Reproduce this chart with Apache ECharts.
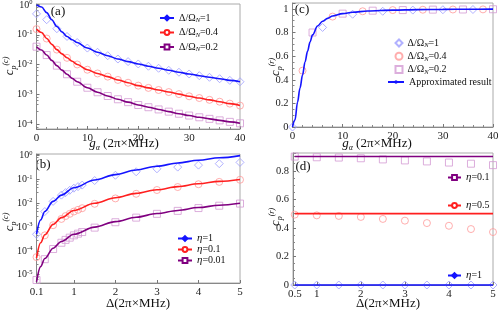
<!DOCTYPE html>
<html><head><meta charset="utf-8">
<script src="https://cdn.jsdelivr.net/npm/echarts@6/dist/echarts.min.js"></script>
<style>html,body{margin:0;padding:0;background:#fff}#c{width:498px;height:311px}</style>
</head><body><div id="c"></div>
<script>
// ---------- panel (a) ----------
const gLine = [0,1,2,3,4,5,6,7,8,10,12,14,16,18,20,22,24,26,28,30,32,34,36,38,40];
const aLineBlue = [1.0,0.85,0.55,0.32,0.19,0.125,0.088,0.068,0.055,0.036,0.026,0.02,0.0155,0.0127,0.0106,0.0089,0.0076,0.0065,0.0056,0.0049,0.0043,0.0038,0.0034,0.003,0.0027];
const aLineRed = [0.155,0.12,0.075,0.048,0.032,0.023,0.017,0.013,0.0102,0.0068,0.0051,0.004,0.0031,0.0025,0.002,0.00168,0.00143,0.00122,0.00104,0.00088,0.00077,0.00067,0.00058,0.0005,0.00043];
const aLinePurple = [0.04,0.031,0.021,0.014,0.0093,0.0066,0.0048,0.0035,0.0027,0.0017,0.0012,0.0009,0.0007,0.00056,0.00045,0.00038,0.00032,0.00027,0.00023,0.0002,0.000175,0.000155,0.000138,0.000123,0.00011];
const gMark = [0,2,4,6,8,10,12,14,16,18,20,22,24,26,28,30,32,34,36,38,40];
const aMarkBlue = [0.5,0.32,0.16,0.088,0.055,0.036,0.026,0.02,0.0155,0.0127,0.0106,0.0089,0.0076,0.0065,0.0056,0.0049,0.0043,0.0038,0.0034,0.003,0.0027];
const aMarkRed = [0.155,0.075,0.032,0.017,0.0102,0.0068,0.0051,0.004,0.0031,0.0025,0.002,0.00168,0.00143,0.00122,0.00104,0.00088,0.00077,0.00067,0.00058,0.0005,0.00043];
const aMarkPurple = [0.04,0.021,0.0093,0.0048,0.0027,0.0017,0.0012,0.0009,0.0007,0.00056,0.00045,0.00038,0.00032,0.00027,0.00023,0.0002,0.000175,0.000155,0.000138,0.000123,0.00011];

// ---------- panel (b) ----------
const dLine = [0.1,0.2,0.3,0.5,0.7,1,1.5,2,2.5,3,3.5,4,4.5,5];
const bLineBlue = [5e-4,2.0e-3,4.5e-3,0.012,0.022,0.045,0.095,0.16,0.25,0.36,0.49,0.64,0.81,1.0];
const bLineRed = [5e-5,2.2e-4,4.8e-4,1.3e-3,2.5e-3,5e-3,0.01,0.017,0.026,0.037,0.05,0.066,0.083,0.1];
const bLinePurple = [5e-6,2.2e-5,4.8e-5,1.3e-4,2.5e-4,5e-4,1e-3,1.7e-3,2.6e-3,3.7e-3,5e-3,6.6e-3,8.3e-3,0.01];
const dMark = [0.1,0.3,0.5,0.7,0.8,0.9,1.0,1.1,1.2,1.5,2,2.5,3,3.5,4,4.5,5];
const bMarkBlue = [5e-4,4.5e-3,0.012,0.022,0.028,0.035,0.043,0.05,0.058,0.09,0.15,0.21,0.28,0.33,0.4,0.46,0.52];
const bMarkRed = [5.5e-5,4.5e-4,1.2e-3,2.2e-3,2.9e-3,3.6e-3,4.5e-3,5.3e-3,6.2e-3,0.0095,0.016,0.025,0.036,0.048,0.063,0.079,0.097];
const bMarkPurple = [6e-6,4.5e-5,1.2e-4,2.2e-4,2.9e-4,3.6e-4,4.5e-4,5.3e-4,6.2e-4,9.5e-4,1.6e-3,2.5e-3,3.6e-3,4.8e-3,6.3e-3,7.9e-3,9.7e-3];

// ---------- panel (c) ----------
const cLineG = [0,0.5,1,1.5,2,2.5,3,3.5,4,5,6,7,8,10,12,15,20,25,30,35,40];
const cLineVal = [0,0.06,0.21,0.33,0.44,0.55,0.64,0.72,0.78,0.855,0.895,0.92,0.94,0.96,0.972,0.982,0.99,0.994,0.996,0.997,0.998];
const cBlueG = [0,6,12,18,24,30,36];
const cBlueVal = [0,0.843,0.955,0.98,0.99,0.993,0.995];
const cRedG = [2,8,14,20,26,32,38];
const cRedVal = [0.477,0.935,0.98,0.99,0.993,0.995,0.996];
const cPurpleG = [4,10,16,22,28,34,40];
const cPurpleVal = [0.80,0.96,0.985,0.99,0.994,0.995,0.997];

// ---------- panel (d) ----------
const dD = [0.5,1,1.5,2,2.5,3,3.5,4,4.5,5];
const dLinePurple = [0.9,0.9,0.9,0.9,0.9,0.9,0.9,0.9,0.9,0.9];
const dLineRed = [0.5,0.5,0.5,0.5,0.5,0.5,0.5,0.5,0.5,0.5];
const dLineBlue = [0,0,0,0,0,0,0,0,0,0];
const dMarkPurple = [0.9,0.895,0.893,0.888,0.88,0.873,0.866,0.858,0.85,0.84];
const dMarkRed = [0.493,0.488,0.484,0.477,0.463,0.451,0.434,0.415,0.392,0.371];
const dMarkBlue = [0,0,0,0,0,0,0,0,0,0];

// tick labels
const bXTicks = [0.1,1,2,3,4,5];
const dXTicks = [0.5,1,2,3,4,5];

const FONT = 'Liberation Serif';
const BLUE = '#1414ff', RED = '#ff1f1f', PURPLE = '#800080';
const LBLUE = '#9d9dff', LRED = '#ff9a9a', LPURPLE = '#d39ad3';

const pairs = (xs, ys) => xs.map((x, i) => [x, ys[i]]);

const richBase = {
  n: {fontFamily: FONT, fontSize: 10, color: '#111', lineHeight: 12},
  i: {fontFamily: FONT, fontSize: 11, fontStyle: 'italic', color: '#111', lineHeight: 12},
  isub: {fontFamily: FONT, fontSize: 6.5, fontStyle: 'italic', color: '#111', verticalAlign: 'bottom', lineHeight: 12, padding: [5, 0, 0, 0]}
};

const legendNames = {
  aB: '{n|Δ/Ω}{isub|N}{n|=1}', aR: '{n|Δ/Ω}{isub|N}{n|=0.4}', aP: '{n|Δ/Ω}{isub|N}{n|=0.2}',
  cB: '{n|Δ/Ω}{isub|N}{n|=1}', cR: '{n|Δ/Ω}{isub|N}{n|=0.4}', cP: '{n|Δ/Ω}{isub|N}{n|=0.2}', cL: '{n|Approximated result}',
  bB: '{i|η}{n|=1}', bR: '{i|η}{n|=0.1}', bP: '{i|η}{n|=0.01}',
  dP: '{i|η}{n|=0.1}', dR: '{i|η}{n|=0.5}', dB: '{i|η}{n|=1}'
};

const axisLineStyle = {show: true, lineStyle: {color: '#888', width: 1}};
const tickStyle = {show: true, inside: true, length: 3, lineStyle: {color: '#777'}};
const minorStyle = (n) => ({show: true, splitNumber: n, length: 2, lineStyle: {color: '#888'}});
const labelStyle = {fontFamily: FONT, fontSize: 10.5, color: '#222', margin: 4};

function logLabel(v) {
  const e = Math.log10(v);
  const r = Math.round(e);
  if (Math.abs(e - r) > 1e-6) return '';
  return '{b|10}{s|' + (r === 0 ? '0' : '-' + Math.abs(r)) + '}';
}
const logRich = {
  b: {fontFamily: FONT, fontSize: 10, color: '#222', lineHeight: 12},
  s: {fontFamily: FONT, fontSize: 6.5, color: '#222', verticalAlign: 'top', lineHeight: 12, padding: [0, 0, 5, 0]}
};

const grids = [
  {left: 36.5, top: 4, width: 203.5, height: 125},
  {left: 36.5, top: 154, width: 203.5, height: 129},
  {left: 292.5, top: 3, width: 200.5, height: 124},
  {left: 293, top: 153, width: 200, height: 132}
].map(g => Object.assign(g, {show: true, borderColor: '#aaa', borderWidth: 1, backgroundColor: 'transparent', containLabel: false, outerBoundsMode: 'none'}));

const xAxes = [
  {gridIndex: 0, type: 'value', min: 0, max: 40, interval: 10, axisLine: axisLineStyle, axisTick: tickStyle, minorTick: minorStyle(5), splitLine: {show: false}, axisLabel: Object.assign({}, labelStyle, {fontSize: 11})},
  {gridIndex: 1, type: 'value', min: 0.1, max: 5, axisLine: axisLineStyle,
    axisTick: Object.assign({}, tickStyle, {customValues: bXTicks}), splitLine: {show: false},
    axisLabel: Object.assign({}, labelStyle, {fontSize: 11, customValues: bXTicks, formatter: v => String(v)})},
  {gridIndex: 2, type: 'value', min: 0, max: 40, interval: 10, axisLine: axisLineStyle, axisTick: tickStyle, minorTick: minorStyle(5), splitLine: {show: false}, axisLabel: Object.assign({}, labelStyle, {fontSize: 11})},
  {gridIndex: 3, type: 'value', min: 0.46, max: 5, axisLine: axisLineStyle,
    axisTick: Object.assign({}, tickStyle, {customValues: dXTicks}), splitLine: {show: false},
    axisLabel: Object.assign({}, labelStyle, {fontSize: 11, customValues: dXTicks, formatter: v => String(v)})}
];
const yAxes = [
  {gridIndex: 0, type: 'log', min: 7.1e-5, max: 1.07, logBase: 10, axisLine: axisLineStyle, axisTick: tickStyle, minorTick: minorStyle(5), splitLine: {show: false},
    axisLabel: Object.assign({}, labelStyle, {formatter: logLabel, rich: logRich})},
  {gridIndex: 1, type: 'log', min: 4.5e-6, max: 1.17, logBase: 10, axisLine: axisLineStyle, axisTick: tickStyle, minorTick: minorStyle(5), splitLine: {show: false},
    axisLabel: Object.assign({}, labelStyle, {formatter: logLabel, rich: logRich})},
  {gridIndex: 2, type: 'value', min: 0, max: 1.05, interval: 0.2, axisLine: axisLineStyle, axisTick: tickStyle, minorTick: minorStyle(4), splitLine: {show: false},
    axisLabel: Object.assign({}, labelStyle, {formatter: v => v > 1.0001 ? '' : String(Math.round(v * 10) / 10)})},
  {gridIndex: 3, type: 'value', min: 0, max: 0.925, interval: 0.2, axisLine: axisLineStyle, axisTick: tickStyle, minorTick: minorStyle(4), splitLine: {show: false},
    axisLabel: Object.assign({}, labelStyle, {formatter: v => v > 0.8001 ? '' : String(Math.round(v * 10) / 10)})}
];

function marks(name, xi, xs, ys, sym, col, size) {
  return {name: name, type: 'scatter', xAxisIndex: xi, yAxisIndex: xi, data: pairs(xs, ys), symbol: sym, symbolSize: size || 7,
    clip: false, silent: true, z: 2,
    itemStyle: {color: 'rgba(255,255,255,0)', borderColor: col, borderWidth: 1}};
}
function curve(name, xi, xs, ys, col, sym) {
  return {name: name, type: 'line', xAxisIndex: xi, yAxisIndex: xi, data: pairs(xs, ys), symbol: sym, symbolSize: 6, showSymbol: false,
    smooth: 0.35, smoothMonotone: 'x', clip: false, silent: true, z: 3,
    lineStyle: {color: col, width: 1.6}, itemStyle: {color: col, borderColor: col, borderWidth: 1}};
}

const cLineSeries = curve('cL', 2, cLineG, cLineVal, BLUE, 'none');
cLineSeries.legendIcon = 'rect';

const series = [
  marks('aBm', 0, gMark, aMarkBlue, 'diamond', LBLUE, 8),
  marks('aRm', 0, gMark, aMarkRed, 'circle', LRED),
  marks('aPm', 0, gMark, aMarkPurple, 'rect', LPURPLE),
  curve('aB', 0, gLine, aLineBlue, BLUE, 'diamond'),
  curve('aR', 0, gLine, aLineRed, RED, 'emptyCircle'),
  curve('aP', 0, gLine, aLinePurple, PURPLE, 'emptyRect'),

  marks('bBm', 1, dMark, bMarkBlue, 'diamond', LBLUE, 8),
  marks('bRm', 1, dMark, bMarkRed, 'circle', LRED),
  marks('bPm', 1, dMark, bMarkPurple, 'rect', LPURPLE),
  curve('bB', 1, dLine, bLineBlue, BLUE, 'diamond'),
  curve('bR', 1, dLine, bLineRed, RED, 'emptyCircle'),
  curve('bP', 1, dLine, bLinePurple, PURPLE, 'emptyRect'),

  marks('cB', 2, cBlueG, cBlueVal, 'diamond', LBLUE, 8),
  marks('cR', 2, cRedG, cRedVal, 'circle', LRED),
  marks('cP', 2, cPurpleG, cPurpleVal, 'rect', LPURPLE),
  cLineSeries,

  marks('dPm', 3, dD, dMarkPurple, 'rect', LPURPLE),
  marks('dRm', 3, dD, dMarkRed, 'circle', LRED),
  marks('dBm', 3, dD, dMarkBlue, 'diamond', LBLUE, 8),
  curve('dP', 3, dD, dLinePurple, PURPLE, 'emptyRect'),
  curve('dR', 3, dD, dLineRed, RED, 'emptyCircle'),
  curve('dB', 3, dD, dLineBlue, BLUE, 'diamond')
];

function legend(names, left, top, gap, w, h) {
  return {data: names, left: left, top: top, orient: 'vertical', itemWidth: w || 14, itemHeight: h || 6, itemGap: gap,
    padding: 0, selectedMode: false, formatter: n => legendNames[n],
    textStyle: {fontFamily: FONT, fontSize: 10, color: '#111', rich: richBase}};
}

const legends = [
  legend(['aB', 'aR', 'aP'], 159, 12, 2.5),
  legend(['bB', 'bR', 'bP'], 177, 233, 0),
  legend(['cB', 'cR', 'cP'], 394.5, 37, 1.3, 7, 7),
  legend(['cL'], 387, 77, 0, 16, 1.6),
  legend(['dP'], 447, 172, 0, 13),
  legend(['dR'], 447, 200, 0, 13),
  legend(['dB'], 447, 270, 0, 13)
];

function txt(x, y, text, size, rot) {
  return {type: 'text', x: x, y: y, rotation: rot || 0, silent: true,
    style: {text: text, rich: richT, textAlign: 'center', textVerticalAlign: 'middle', fontFamily: FONT, fontSize: size || 13, fill: '#111'}};
}
const richT = {
  n: {fontFamily: FONT, fontSize: 13, color: '#111', lineHeight: 16},
  i: {fontFamily: FONT, fontSize: 13, fontStyle: 'italic', color: '#111', lineHeight: 16},
  sub: {fontFamily: FONT, fontSize: 8, fontStyle: 'italic', color: '#111', verticalAlign: 'bottom', lineHeight: 16, padding: [6, 0, 0, 0]},
  sup: {fontFamily: FONT, fontSize: 8, fontStyle: 'italic', color: '#111', verticalAlign: 'top', lineHeight: 16, padding: [0, 0, 6, 0]}
};

const graphics = [
  txt(58, 12, '{n|(a)}'), txt(43, 165, '{n|(b)}'), txt(302, 10, '{n|(c)}'), txt(303, 167, '{n|(d)}'),
  txt(124, 144, '{i|g}{sub|α}{n| (2π×MHz)}'),
  txt(377, 144, '{i|g}{sub|α}{n| (2π×MHz)}'),
  txt(138, 304, '{n|Δ(2π×MHz)}'),
  txt(388, 304, '{n|Δ(2π×MHz)}'),
  txt(10, 66, '{i|c}{sub|p}{sup|(c)}', 13, Math.PI / 2),
  txt(10, 222, '{i|c}{sub|p}{sup|(c)}', 13, Math.PI / 2),
  txt(276, 67, '{i|c}{sub|p}{sup|(r)}', 13, Math.PI / 2),
  txt(276, 217, '{i|c}{sub|p}{sup|(r)}', 13, Math.PI / 2)
];

const chart = echarts.init(document.getElementById('c'), null, {renderer: 'canvas'});
chart.setOption({
  animation: false,
  backgroundColor: '#fff',
  grid: grids,
  xAxis: xAxes,
  yAxis: yAxes,
  legend: legends,
  series: series,
  graphic: graphics
});
</script>
</body></html>
